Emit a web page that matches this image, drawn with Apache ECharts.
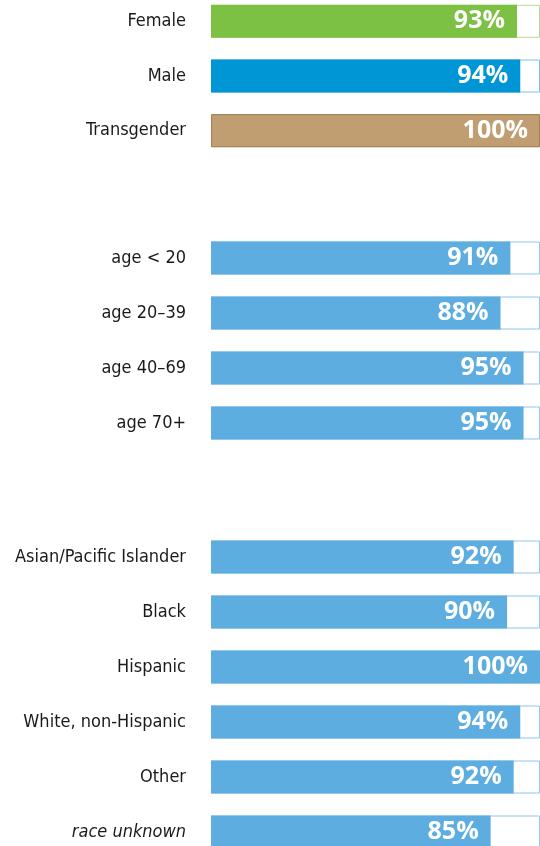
<!DOCTYPE html>
<html>
<head>
<meta charset="utf-8">
<script src="https://cdn.jsdelivr.net/npm/echarts@6/dist/echarts.min.js"></script>
<style>
  html, body { margin: 0; padding: 0; background: #fff; }
  #chart-panel { width: 540px; height: 846px; }
</style>
</head>
<body>
<div id="chart-panel"></div>
<script>
// data
const sexCats = ['Female', 'Male', 'Transgender'];
const sexVals = [93, 94, 100];
const sexColors = ['#7cc143', '#0096d6', '#c19d72'];
const sexEdges = ['#b6da90', '#7fc0ea', '#a7804f'];

const ageCats = ['age < 20', 'age 20–39', 'age 40–69', 'age 70+'];
const ageVals = [91, 88, 95, 95];

const raceCats = ['Asian/Pacific Islander', 'Black', 'Hispanic', 'White, non-Hispanic', 'Other', 'race unknown'];
const raceVals = [92, 90, 100, 94, 92, 85];

const blue = '#5dade0';
const blueEdge = '#8ec8ee';
const labelFont = '"DejaVu Sans Condensed", sans-serif';
const labelSize = 18;

var myChart = echarts.init(document.getElementById('chart-panel'));

// each block sits in its own grid so the gaps between blocks match
const grids = [
  { left: 211, width: 329, top: -6, height: 164 },
  { left: 211, width: 329, top: 230.5, height: 220 },
  { left: 211, width: 329, top: 529.5, height: 330 }
];
const blocks = [
  { cats: sexCats, vals: sexVals, colors: sexColors, edges: sexEdges },
  { cats: ageCats, vals: ageVals, colors: ageCats.map(() => blue), edges: ageCats.map(() => blueEdge) },
  { cats: raceCats, vals: raceVals, colors: raceCats.map(() => blue), edges: raceCats.map(() => blueEdge) }
];

const xAxis = [], yAxis = [], series = [];
blocks.forEach(function (b, i) {
  xAxis.push({ gridIndex: i, type: 'value', min: 0, max: 100, show: false });
  yAxis.push({
    gridIndex: i,
    type: 'category',
    data: b.cats,
    inverse: true,
    axisLine: { show: false },
    axisTick: { show: false },
    axisLabel: {
      margin: 25,
      fontSize: labelSize,
      fontFamily: labelFont,
      color: '#1a1a1a',
      formatter: function (v) { return v === 'race unknown' ? '{i|' + v + '}' : v; },
      rich: { i: { fontStyle: 'italic', fontSize: labelSize, fontFamily: labelFont, color: '#1a1a1a' } }
    }
  });
  // white track with a thin outline, full length
  series.push({
    type: 'bar',
    xAxisIndex: i, yAxisIndex: i,
    barWidth: 33,
    barGap: '-100%',
    silent: true,
    data: b.cats.map(function (c, k) {
      return { value: 100, itemStyle: { color: '#fff', borderColor: b.edges[k], borderWidth: 1 } };
    })
  });
  series.push({
    type: 'bar',
    xAxisIndex: i, yAxisIndex: i,
    barWidth: 33,
    barGap: '-100%',
    data: b.vals.map(function (v, k) {
      return { value: v, itemStyle: { color: b.colors[k], borderColor: b.edges[k], borderWidth: i === 0 && k === 2 ? 1 : 0 } };
    }),
    label: {
      show: true,
      position: 'insideRight',
      distance: 12,
      color: '#fff',
      fontWeight: 'bold',
      fontSize: 25,
      fontFamily: '"Open Sans", sans-serif',
      formatter: '{c}%'
    }
  });
});

myChart.setOption({
  animation: false,
  grid: grids.map(g => Object.assign({ outerBoundsMode: 'none', containLabel: false }, g)),
  xAxis: xAxis,
  yAxis: yAxis,
  series: series
});
</script>
</body>
</html>
